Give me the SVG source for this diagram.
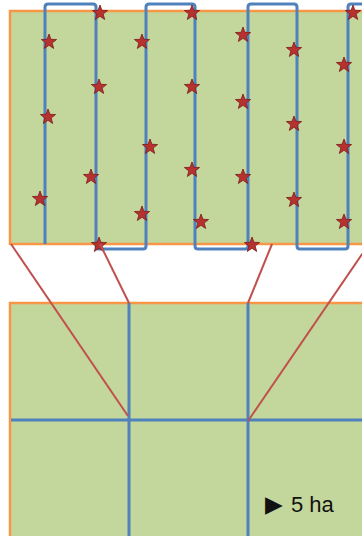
<svg xmlns="http://www.w3.org/2000/svg" width="362" height="536" viewBox="0 0 362 536">
<defs>
<style>
.field{fill:#c3d69b;stroke:#f79646;stroke-width:2.5}
.track{fill:none;stroke:#4f81bd;stroke-width:3;stroke-linejoin:round}
.conn{stroke:#c0504d;stroke-width:2;fill:none}
.lbl{font-family:"Liberation Sans",Arial,sans-serif;font-size:22px;fill:#111}
.ptr{font-family:"DejaVu Sans",sans-serif;font-size:23px}
</style>
<polygon id="star" points="0,-8 1.94,-2.68 7.61,-2.47 3.15,1.02 4.7,6.47 0,3.3 -4.7,6.47 -3.15,1.02 -7.61,-2.47 -1.94,-2.68" fill="#b7312f" stroke="#7d1c1c" stroke-width="0.8"/>
</defs>
<rect width="362" height="536" fill="#ffffff"/>
<g id="top-field">
<rect class="field" x="10" y="11" width="370" height="233"/>
<path class="track" d="M45,244 V7 Q45,4 48,4 H93 Q96,4 96,7 V246 Q96,249 99,249 H143 Q146,249 146,246 V7 Q146,4 149,4 H192 Q195,4 195,7 V246 Q195,249 198,249 H245 Q248,249 248,246 V7 Q248,4 251,4 H294 Q297,4 297,7 V246 Q297,249 300,249 H345 Q348,249 348,246 V7 Q348,4 351,4 H370"/>
<g id="samples">
<use href="#star" x="100" y="13"/><use href="#star" x="192" y="13"/><use href="#star" x="353" y="13"/>
<use href="#star" x="49" y="42"/><use href="#star" x="142" y="42"/><use href="#star" x="243" y="35"/>
<use href="#star" x="294" y="50"/><use href="#star" x="344" y="65"/><use href="#star" x="99" y="87"/>
<use href="#star" x="192" y="87"/><use href="#star" x="243" y="102"/><use href="#star" x="48" y="117"/>
<use href="#star" x="294" y="124"/><use href="#star" x="150" y="147"/><use href="#star" x="344" y="147"/>
<use href="#star" x="91" y="177"/><use href="#star" x="192" y="170"/><use href="#star" x="243" y="177"/>
<use href="#star" x="40" y="199"/><use href="#star" x="294" y="200"/><use href="#star" x="142" y="214"/>
<use href="#star" x="201" y="222"/><use href="#star" x="344" y="222"/><use href="#star" x="99" y="245"/>
<use href="#star" x="252" y="245"/>
</g>
</g>
<g id="bottom-field">
<rect class="field" x="10" y="303" width="370" height="240"/>
<path class="track" d="M129,303 V536 M248,303 V536 M11,420 H362"/>
</g>
<g id="connectors">
<line class="conn" x1="11" y1="244" x2="128" y2="416"/>
<line class="conn" x1="100" y1="244" x2="129" y2="303"/>
<line class="conn" x1="272" y1="244" x2="248" y2="303"/>
<line class="conn" x1="369" y1="244" x2="248" y2="421"/>
</g>
<g id="label">
<text class="lbl" x="265" y="512"><tspan class="ptr">▶</tspan><tspan x="291">5 ha</tspan></text>
</g>
</svg>
